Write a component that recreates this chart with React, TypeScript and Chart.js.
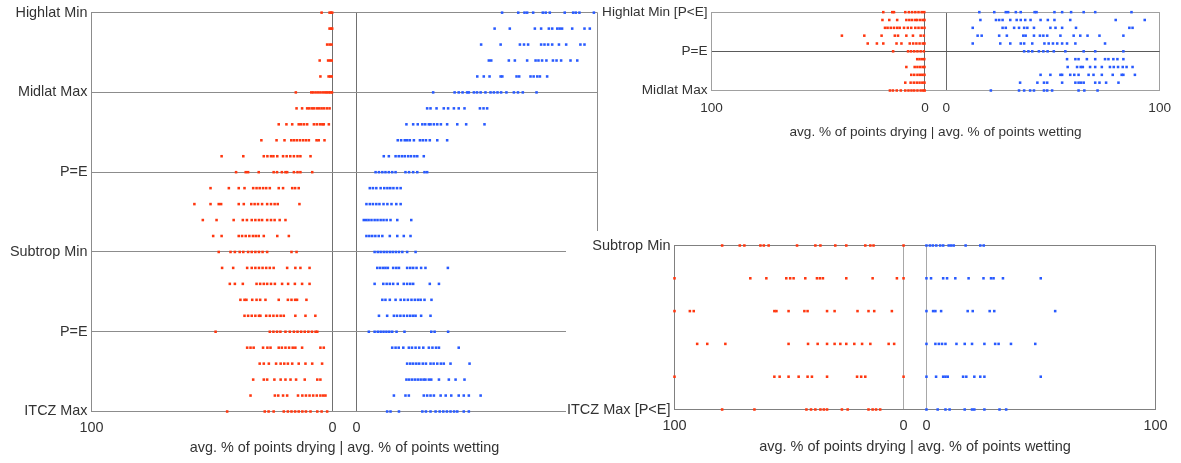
import { useEffect, useRef } from 'react';
import { Chart, registerables } from 'chart.js';

Chart.register(...registerables);

// ---------- shared axis definitions ----------
const GAP = 10; // drying axis is drawn at -(value + GAP), leaving a 10-unit gap around zero
const X_TICKS = [-110, -10, 0, 100];
const X_TICK_LABELS = ['100', '0', '0', '100'];
const X_TITLE = 'avg. % of points drying | avg. % of points wetting';

// ---------- left (large) panel ----------
const leftRowTicks = [0, 5, 10, 15, 20, 25];
const leftRowLabels = ['Highlat Min', 'Midlat Max', 'P=E', 'Subtrop Min', 'P=E', 'ITCZ Max'];
const leftDrying: number[][] = [
  [4.5, 1.2, 0.6, 0.1],
  [1.2, 0.6, 0.1],
  [2.2, 1.2, 0.4],
  [5.3, 1.8, 1.0, 0.3],
  [5.0, 1.6, 0.9, 0.3],
  [15.2, 8.8, 8.0, 7.0, 6.0, 5.0, 4.0, 3.0, 2.3, 1.5, 0.8, 0.2],
  [14.9, 12.6, 10.5, 9.6, 8.5, 7.7, 6.5, 5.5, 4.5, 3.5, 2.3, 1.2],
  [22.3, 19.1, 16.7, 14.0, 13.0, 11.8, 10.5, 7.7, 6.5, 5.2, 4.2, 3.6, 1.5],
  [29.5, 23.2, 19.9, 17.1, 16.0, 14.8, 13.5, 12.2, 11.0, 9.8, 6.6, 5.7, 3.3],
  [46.0, 37.0, 28.5, 27.0, 25.5, 24.5, 22.9, 20.5, 19.0, 17.5, 16.0, 14.5, 13.3, 9.1],
  [40.0, 36.0, 35.0, 30.6, 24.4, 23.0, 21.0, 19.5, 18.8, 16.0, 14.5, 13.3, 8.4],
  [50.6, 43.0, 38.9, 36.5, 32.9, 31.5, 30.2, 28.8, 27.5, 26.0, 22.3, 20.5, 16.7, 15.5, 14.0],
  [57.3, 50.6, 47.2, 46.2, 38.9, 36.8, 33.7, 32.3, 30.9, 29.2, 27.1, 25.5, 24.0, 22.7, 13.7],
  [53.8, 48.1, 41.0, 37.2, 35.5, 33.5, 32.0, 30.5, 29.2, 27.1, 25.5, 24.0, 21.9, 19.5],
  [49.5, 46.0, 38.9, 37.5, 36.0, 34.5, 33.0, 31.8, 30.6, 28.5, 22.9, 18.1],
  [47.2, 42.3, 40.5, 38.5, 37.0, 35.0, 33.5, 32.0, 30.5, 29.0, 27.1, 17.0, 14.9],
  [45.8, 41.2, 35.4, 33.5, 32.0, 30.5, 29.0, 27.5, 26.0, 24.4, 18.8, 15.4, 13.3, 9.5],
  [42.6, 40.5, 37.2, 31.5, 30.0, 28.5, 27.1, 25.5, 23.9, 20.9, 18.4, 15.6, 12.6, 9.5],
  [38.2, 36.5, 35.7, 33.3, 31.5, 30.0, 27.8, 22.3, 18.5, 17.0, 15.5, 14.7, 10.8],
  [36.5, 35.0, 33.5, 32.0, 30.5, 29.9, 27.5, 26.0, 24.5, 23.0, 21.5, 20.2, 15.4, 11.2, 7.1],
  [48.5, 26.0, 24.5, 23.0, 21.6, 19.5, 17.7, 16.0, 14.5, 13.0, 11.5, 10.0, 8.5, 7.0, 6.3],
  [35.4, 34.0, 32.7, 28.8, 27.0, 25.7, 22.3, 21.0, 19.5, 18.0, 16.5, 15.4, 12.6, 5.0, 3.6],
  [30.2, 28.5, 26.4, 23.4, 21.5, 20.0, 18.5, 16.7, 14.0, 11.2, 8.4, 4.3],
  [32.9, 28.5, 27.1, 24.1, 21.5, 19.5, 17.4, 15.1, 11.5, 6.3, 5.0],
  [34.0, 23.9, 22.5, 20.5, 18.8, 14.3, 12.5, 11.0, 9.5, 8.0, 6.5, 5.0, 3.8, 2.9],
  [43.7, 28.1, 26.5, 24.4, 20.2, 18.5, 17.0, 15.5, 14.0, 12.5, 11.0, 9.1, 6.3, 4.5, 2.2],
];
const leftWetting: number[][] = [
  [60.4, 67.1, 69.7, 70.8, 73.3, 77.3, 78.5, 80.2, 86.4, 89.9, 91.0, 92.5, 98.5],
  [57.3, 63.6, 74.0, 76.6, 79.8, 81.2, 83.3, 84.3, 85.3, 89.5, 94.6, 96.8],
  [51.7, 59.8, 67.8, 69.5, 71.2, 76.6, 78.0, 79.5, 81.2, 84.0, 87.0, 92.9, 94.6],
  [54.9, 55.9, 63.2, 65.7, 70.8, 74.3, 75.5, 77.0, 78.8, 81.5, 83.0, 84.9, 88.8, 91.6],
  [50.1, 52.8, 55.2, 59.8, 60.5, 66.4, 67.5, 72.2, 73.5, 75.0, 76.1, 79.1],
  [31.8, 40.7, 42.4, 44.0, 45.9, 46.6, 48.7, 50.0, 51.5, 53.5, 55.6, 57.0, 58.5, 60.0, 62.2, 65.3, 67.0, 69.0, 74.7],
  [29.3, 30.7, 33.2, 36.2, 38.0, 40.4, 42.4, 44.8, 51.2, 52.7, 54.2],
  [20.7, 23.5, 25.4, 27.3, 28.5, 30.0, 30.7, 32.1, 33.5, 35.0, 37.6, 41.8, 45.5, 53.1],
  [17.1, 18.5, 20.0, 21.0, 22.1, 23.8, 26.3, 27.5, 28.8, 30.4, 33.5, 37.6],
  [11.3, 13.4, 16.2, 17.5, 18.8, 20.0, 21.4, 22.6, 24.0, 25.2, 27.9],
  [7.9, 9.3, 10.7, 12.0, 13.4, 14.8, 16.2, 20.3, 21.8, 23.5, 25.2, 28.2, 29.3],
  [5.5, 6.8, 8.2, 10.0, 11.5, 12.8, 14.0, 15.3, 16.8, 18.3],
  [4.1, 5.5, 6.8, 8.2, 9.5, 11.2, 12.8, 14.5, 16.5, 18.3],
  [3.0, 4.0, 5.0, 6.2, 7.5, 8.7, 10.0, 11.2, 12.5, 14.1, 16.9, 22.7],
  [4.1, 5.3, 6.5, 7.8, 9.2, 10.7, 13.8, 16.9, 19.6, 22.4],
  [7.5, 8.8, 10.0, 11.3, 12.5, 13.8, 15.0, 16.3, 17.6, 19.0, 21.0, 24.5],
  [8.6, 9.8, 11.0, 12.0, 13.0, 15.2, 16.5, 17.6, 21.0, 22.3, 23.5, 24.9, 26.8, 28.6, 37.9],
  [7.5, 11.1, 12.5, 13.8, 15.2, 17.1, 19.6, 21.0, 22.3, 23.5, 30.4, 34.2],
  [10.7, 12.0, 13.8, 16.2, 18.3, 19.8, 21.3, 22.8, 24.2, 25.5, 26.6, 28.2, 31.1],
  [9.3, 12.7, 15.5, 16.8, 18.2, 19.6, 21.0, 22.3, 23.5, 24.5, 26.8, 30.7],
  [5.1, 7.5, 8.8, 10.0, 11.2, 12.4, 13.6, 14.8, 16.6, 19.9, 31.0, 32.4, 38.0],
  [14.8, 16.2, 17.5, 19.4, 21.7, 23.0, 24.5, 26.0, 27.7, 30.0, 31.5, 33.0, 34.2, 42.4],
  [21.0, 22.3, 23.5, 24.8, 26.0, 27.5, 28.8, 30.7, 32.0, 33.5, 35.0, 36.2, 39.0, 46.9],
  [20.7, 21.8, 23.0, 24.2, 25.4, 26.6, 27.8, 28.6, 30.0, 31.0, 34.2, 38.3, 41.1, 44.8],
  [15.5, 20.3, 21.7, 27.9, 29.3, 30.7, 32.1, 34.9, 37.0, 39.3, 42.4, 44.5, 46.6, 51.5],
  [12.7, 14.1, 17.6, 27.3, 28.8, 30.7, 32.8, 34.5, 36.0, 37.5, 39.0, 40.5, 41.8, 44.5, 46.6],
];

// ---------- top-right panel ----------
const topRowTicks = [0, 5, 10];
const topRowLabels = ['Highlat Min [P<E]', 'P=E', 'Midlat Max'];
const topDrying: number[][] = [
  [19.5, 15.3, 14.5, 9.2, 7.5, 6.0, 4.5, 3.0, 1.5, 0.3],
  [19.9, 16.7, 13.0, 8.7, 7.3, 6.0, 4.5, 3.6, 2.2, 1.0, 0.2],
  [18.7, 17.5, 16.0, 14.5, 13.0, 11.8, 9.8, 8.0, 6.4, 4.5, 3.0, 1.5, 0.2],
  [38.9, 28.4, 20.3, 14.1, 12.6, 8.7, 5.6, 2.0, 0.5],
  [26.8, 22.5, 19.5, 13.3, 11.0, 7.1, 5.5, 4.0, 2.5, 1.0, 0.2],
  [14.9, 7.9, 6.5, 5.0, 3.5, 2.0, 0.5],
  [3.6, 2.5, 1.3, 0.3],
  [8.7, 4.8, 3.5, 2.2, 1.0, 0.2],
  [6.4, 5.0, 3.5, 2.3, 1.2, 0.2],
  [9.2, 6.7, 5.2, 3.8, 2.5, 1.2, 0.2],
  [16.4, 15.0, 13.2, 11.3, 9.2, 7.7, 6.3, 5.0, 3.5, 2.0, 0.8, 0.1],
];
const topWetting: number[][] = [
  [15.5, 22.5, 27.9, 29.0, 32.6, 34.9, 41.4, 42.3, 50.7, 54.3, 58.5, 64.4, 69.8, 86.8],
  [16.0, 23.3, 24.8, 26.4, 30.0, 33.0, 34.9, 37.0, 39.5, 44.2, 47.6, 50.7, 58.1, 79.4, 93.0],
  [12.4, 26.4, 27.9, 31.8, 34.1, 36.5, 38.0, 41.1, 48.8, 51.2, 54.3, 60.8, 85.8, 87.3],
  [14.7, 16.6, 24.8, 28.4, 36.1, 37.2, 41.1, 43.9, 45.5, 47.3, 53.5, 59.7, 62.8, 66.2, 71.8, 83.0],
  [12.4, 25.3, 30.0, 34.9, 36.5, 40.3, 46.0, 48.0, 50.0, 52.0, 54.3, 56.6, 60.5, 74.4],
  [36.5, 38.5, 40.3, 43.4, 45.5, 47.5, 50.4, 55.8, 64.4, 69.8, 83.0],
  [56.6, 60.5, 62.0, 65.9, 69.8, 74.4, 76.0, 78.3, 80.2, 83.0],
  [56.9, 61.3, 63.0, 64.0, 67.4, 69.8, 72.9, 76.7, 78.5, 80.5, 82.7, 84.5, 87.3],
  [44.2, 48.8, 53.5, 54.3, 58.1, 60.0, 62.0, 66.7, 69.0, 72.9, 78.0, 82.2, 83.0, 88.4],
  [34.6, 42.7, 45.8, 47.3, 54.3, 60.5, 62.0, 63.1, 64.4, 69.8, 71.8, 74.9, 80.7],
  [20.9, 34.1, 36.5, 39.3, 41.1, 45.8, 47.3, 49.6, 62.0, 64.7, 70.9],
];

// ---------- bottom-right panel ----------
const bottomRowTicks = [0, 5];
const bottomRowLabels = ['Subtrop Min', 'ITCZ Max [P<E]'];
const bottomDrying: number[][] = [
  [79.2, 71.5, 69.5, 62.5, 61.0, 58.9, 46.5, 38.5, 36.3, 29.8, 25.0, 16.7, 14.5, 13.1, 0],
  [100, 66.9, 59.9, 51.2, 49.5, 48.0, 42.9, 37.8, 36.5, 35.2, 25.0, 13.5, 2.9, 0],
  [100, 93.3, 91.6, 56.4, 55.5, 50.2, 43.3, 41.9, 33.4, 30.1, 20.1, 15.3, 12.8, 5.1],
  [90.1, 85.7, 77.8, 50.2, 41.7, 37.5, 33.4, 30.1, 27.6, 25.0, 21.5, 18.1, 14.5, 6.5, 4.1],
  [100, 56.4, 54.1, 50.2, 45.8, 41.9, 40.0, 33.4, 20.3, 18.5, 16.7, 0],
  [79.2, 65.1, 42.4, 40.4, 38.5, 36.3, 34.8, 33.4, 26.9, 24.4, 15.3, 13.5, 12.0, 10.2],
];
const bottomWetting: number[][] = [
  [0, 1.5, 2.8, 4.3, 6.0, 7.3, 9.7, 10.8, 11.9, 17.1, 23.5, 25.0],
  [0, 2.0, 7.3, 9.0, 12.6, 18.4, 24.9, 28.2, 29.3, 33.4, 49.9],
  [0, 2.9, 3.9, 6.4, 18.0, 20.2, 27.6, 29.6, 56.2],
  [0, 3.9, 5.4, 6.8, 8.3, 13.1, 16.7, 19.9, 25.3, 30.0, 31.5, 36.9, 47.5],
  [0, 4.2, 7.3, 8.3, 9.3, 16.0, 17.4, 20.9, 23.5, 25.3, 49.9],
  [0, 4.9, 8.3, 10.1, 16.7, 19.9, 20.9, 25.3, 31.9, 34.8],
];

// ---------- styling ----------
const RED = 'rgb(255, 55, 15)';
const BLUE = 'rgb(40, 90, 255)';
const TEXT = '#333333';
const FONT = "'Liberation Sans', Arial, Helvetica, sans-serif";

type PanelSpec = {
  drying: number[][];
  wetting: number[][];
  rowTicks: number[];
  rowLabels: string[];
  rows: number;
  left: number;
  top: number;
  width: number;
  height: number;
  area: { left: number; right: number; top: number; bottom: number };
  fontSize: number;
  tickPad: number;
  titlePadBottom: number;
  hGrid: string;
  frame: string;
  zero: string;
  background?: string;
};

const PANELS: PanelSpec[] = [
  {
    drying: leftDrying, wetting: leftWetting, rowTicks: leftRowTicks, rowLabels: leftRowLabels, rows: 25,
    left: 0, top: 0, width: 640, height: 463,
    area: { left: 91.5, right: 597.5, top: 11.5, bottom: 411.5 },
    fontSize: 14.4, tickPad: 8, titlePadBottom: 6,
    hGrid: '#8c8c8c', frame: '#8c8c8c', zero: '#707070',
  },
  {
    drying: topDrying, wetting: topWetting, rowTicks: topRowTicks, rowLabels: topRowLabels, rows: 10,
    left: 599, top: 0, width: 582, height: 145,
    area: { left: 112.5, right: 564.5, top: 11.5, bottom: 90.5 },
    fontSize: 13.6, tickPad: 10, titlePadBottom: 5,
    hGrid: '#5a5a5a', frame: '#a0a0a0', zero: '#6a6a6a', background: '#ffffff',
  },
  {
    drying: bottomDrying, wetting: bottomWetting, rowTicks: bottomRowTicks, rowLabels: bottomRowLabels, rows: 5,
    left: 566, top: 231, width: 615, height: 232,
    area: { left: 108.5, right: 589.5, top: 14.5, bottom: 178.5 },
    fontSize: 14.5, tickPad: 8, titlePadBottom: 7,
    hGrid: '#808080', frame: '#808080', zero: '#a8a8a8', background: '#ffffff',
  },
];

function buildConfig(s: PanelSpec): any {
  const dryPoints = s.drying.flatMap((row, i) => row.map((v) => ({ x: -GAP - v, y: i })));
  const wetPoints = s.wetting.flatMap((row, i) => row.map((v) => ({ x: v, y: i })));
  const font = { family: FONT, size: s.fontSize };
  const pointStyle = { pointStyle: 'rect', pointRadius: 1.8, pointBorderWidth: 0, borderWidth: 0, clip: false };
  return {
    type: 'scatter',
    data: {
      datasets: [
        { label: 'drying', data: dryPoints, backgroundColor: RED, borderColor: RED, ...pointStyle },
        { label: 'wetting', data: wetPoints, backgroundColor: BLUE, borderColor: BLUE, ...pointStyle },
      ],
    },
    options: {
      animation: false,
      responsive: false,
      maintainAspectRatio: false,
      devicePixelRatio: 1,
      events: [],
      layout: { padding: { left: 0, top: s.area.top, right: s.width - s.area.right, bottom: 0 } },
      plugins: { legend: { display: false }, tooltip: { enabled: false }, title: { display: false } },
      scales: {
        x: {
          type: 'linear',
          min: -100 - GAP,
          max: 100,
          afterBuildTicks: (sc: any) => { sc.ticks = X_TICKS.map((v) => ({ value: v })); },
          afterFit: (sc: any) => { sc.height = s.height - s.area.bottom; },
          ticks: {
            autoSkip: false, maxRotation: 0, minRotation: 0, padding: s.tickPad, color: TEXT, font,
            callback: (_v: any, i: number) => X_TICK_LABELS[i],
          },
          grid: {
            drawTicks: false,
            lineWidth: 1,
            color: (ctx: any) => {
              const v = ctx.tick ? ctx.tick.value : null;
              return v === -GAP || v === 0 ? s.zero : s.frame;
            },
          },
          border: { display: true, color: s.frame, width: 1 },
          title: { display: true, text: X_TITLE, color: TEXT, font, padding: { top: 0, bottom: s.titlePadBottom } },
        },
        y: {
          type: 'linear',
          min: 0,
          max: s.rows,
          reverse: true,
          afterBuildTicks: (sc: any) => { sc.ticks = s.rowTicks.map((v) => ({ value: v })); },
          afterFit: (sc: any) => { sc.width = s.area.left; },
          ticks: {
            autoSkip: false, padding: 4, color: TEXT, font,
            callback: (_v: any, i: number) => s.rowLabels[i],
          },
          grid: {
            drawTicks: false,
            lineWidth: 1,
            color: (ctx: any) => {
              const v = ctx.tick ? ctx.tick.value : null;
              return v === 0 || v === s.rows ? s.frame : s.hGrid;
            },
          },
          border: { display: true, color: s.frame, width: 1 },
        },
      },
    },
  };
}

function Panel({ spec }: { spec: PanelSpec }) {
  const ref = useRef<HTMLCanvasElement | null>(null);
  useEffect(() => {
    if (!ref.current) return;
    const chart = new Chart(ref.current, buildConfig(spec));
    return () => chart.destroy();
  }, [spec]);
  return (
    <canvas
      ref={ref}
      width={spec.width}
      height={spec.height}
      style={{
        position: 'absolute',
        left: spec.left,
        top: spec.top,
        width: spec.width,
        height: spec.height,
        background: spec.background || 'transparent',
        display: 'block',
      }}
    />
  );
}

export default function App() {
  return (
    <div style={{ position: 'absolute', left: 0, top: 0, width: 1181, height: 463, background: '#ffffff', overflow: 'hidden' }}>
      {PANELS.map((p, i) => (
        <Panel key={i} spec={p} />
      ))}
    </div>
  );
}
